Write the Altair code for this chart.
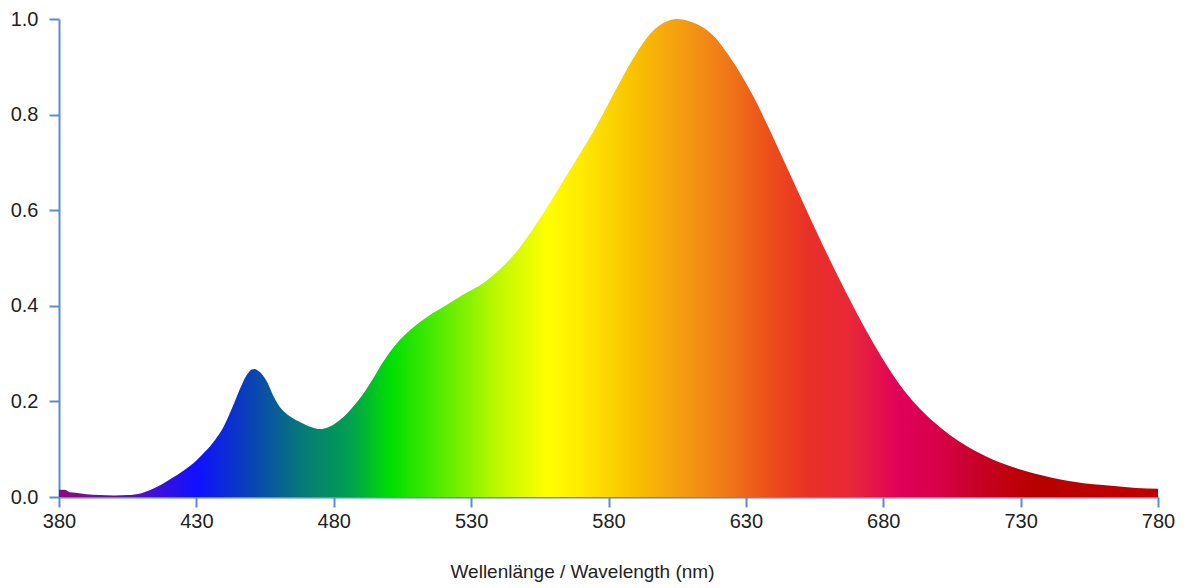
import altair as alt
import pandas as pd

wavelength = [380, 382, 384, 386, 390, 395, 400, 405, 410, 413, 417, 421, 425, 429, 433,
              437, 440, 443, 446, 448, 450, 451, 453, 456, 458, 461, 464, 468, 472, 475,
              478, 482, 486, 490, 494, 498, 502, 506, 510, 515, 520, 527, 535, 540, 545,
              550, 555, 560, 565, 570, 575, 582, 588, 594, 600, 605, 610, 613, 616, 619,
              622, 625, 628, 633, 638, 643, 648, 654, 660, 667, 674, 680, 686, 692, 698,
              704, 710, 716, 722, 729, 735, 741, 747, 753, 760, 766, 772, 780]
intensity = [0.015, 0.015, 0.010, 0.009, 0.006, 0.004, 0.003, 0.004, 0.008, 0.014, 0.025,
             0.039, 0.054, 0.071, 0.094, 0.121, 0.148, 0.186, 0.228, 0.252, 0.266, 0.268,
             0.262, 0.238, 0.212, 0.184, 0.169, 0.156, 0.146, 0.142, 0.146, 0.160, 0.182,
             0.210, 0.245, 0.283, 0.315, 0.340, 0.360, 0.381, 0.398, 0.423, 0.450, 0.474,
             0.503, 0.540, 0.582, 0.628, 0.675, 0.722, 0.770, 0.845, 0.908, 0.961, 0.992,
             1.000, 0.994, 0.987, 0.976, 0.960, 0.938, 0.913, 0.886, 0.835, 0.776, 0.714,
             0.651, 0.576, 0.503, 0.422, 0.346, 0.287, 0.235, 0.193, 0.159, 0.131, 0.108,
             0.089, 0.073, 0.059, 0.049, 0.041, 0.034, 0.029, 0.025, 0.022, 0.019, 0.017]

stop_nm = [380, 400, 415, 430, 449, 468, 486, 501, 523, 540, 558, 571, 590, 605, 622,
           638, 653, 668, 686, 700, 714, 725, 735, 780]
stop_colors = ["#8a0a80", "#6a10a0", "#4010d8", "#1010ff", "#0a40b8", "#087878",
               "#00a050", "#00e000", "#68ee00", "#c0f800", "#ffff00", "#ffe800",
               "#f8c000", "#f5a010", "#f07a18", "#ec5018", "#e83028", "#e82838",
               "#e0005a", "#d80048", "#c80028", "#c00010", "#b80000", "#c00000"]

x_ticks = [380, 430, 480, 530, 580, 630, 680, 730, 780]
y_ticks = [0.0, 0.2, 0.4, 0.6, 0.8, 1.0]

df = pd.DataFrame({"nm": wavelength, "v": intensity})

lo, hi = min(stop_nm), max(stop_nm)
stops = [alt.GradientStop(offset=(n - lo) / (hi - lo), color=c)
         for n, c in zip(stop_nm, stop_colors)]

axis_color = "#5b8bd0"
font = "Liberation Sans"

chart = alt.Chart(df).mark_area(
    interpolate="monotone",
    color=alt.Gradient(gradient="linear", stops=stops, x1=0, x2=1, y1=0, y2=0),
).encode(
    x=alt.X("nm:Q", scale=alt.Scale(domain=[380, 780], nice=False, zero=False),
            axis=alt.Axis(values=x_ticks, title="Wellenlänge / Wavelength (nm)",
                          grid=False, domainColor=axis_color, domainWidth=2,
                          tickColor=axis_color, tickWidth=2, tickSize=10,
                          labelFont=font, labelFontSize=20, labelColor="#222",
                          labelPadding=4, labelFlush=False,
                          titleFont=font, titleFontSize=19, titleFontWeight="normal",
                          titleColor="#222", titleX=523, titleY=80,
                          titleAnchor="start", titleAlign="center",
                          titleBaseline="alphabetic")),
    y=alt.Y("v:Q", scale=alt.Scale(domain=[0, 1], nice=False),
            axis=alt.Axis(values=y_ticks, format=".1f", title=None, grid=False,
                          domainColor=axis_color, domainWidth=2,
                          tickColor=axis_color, tickWidth=2, tickSize=10,
                          labelFont=font, labelFontSize=20, labelColor="#222",
                          labelPadding=11, labelFlush=False)),
).properties(
    width=1099, height=478,
    padding={"left": 51, "top": 11, "right": 20, "bottom": 90},
    autosize=alt.AutoSizeParams(type="none"),
).configure_view(stroke=None)

chart.save("out.html", embed_options={"renderer": "svg", "actions": False})
